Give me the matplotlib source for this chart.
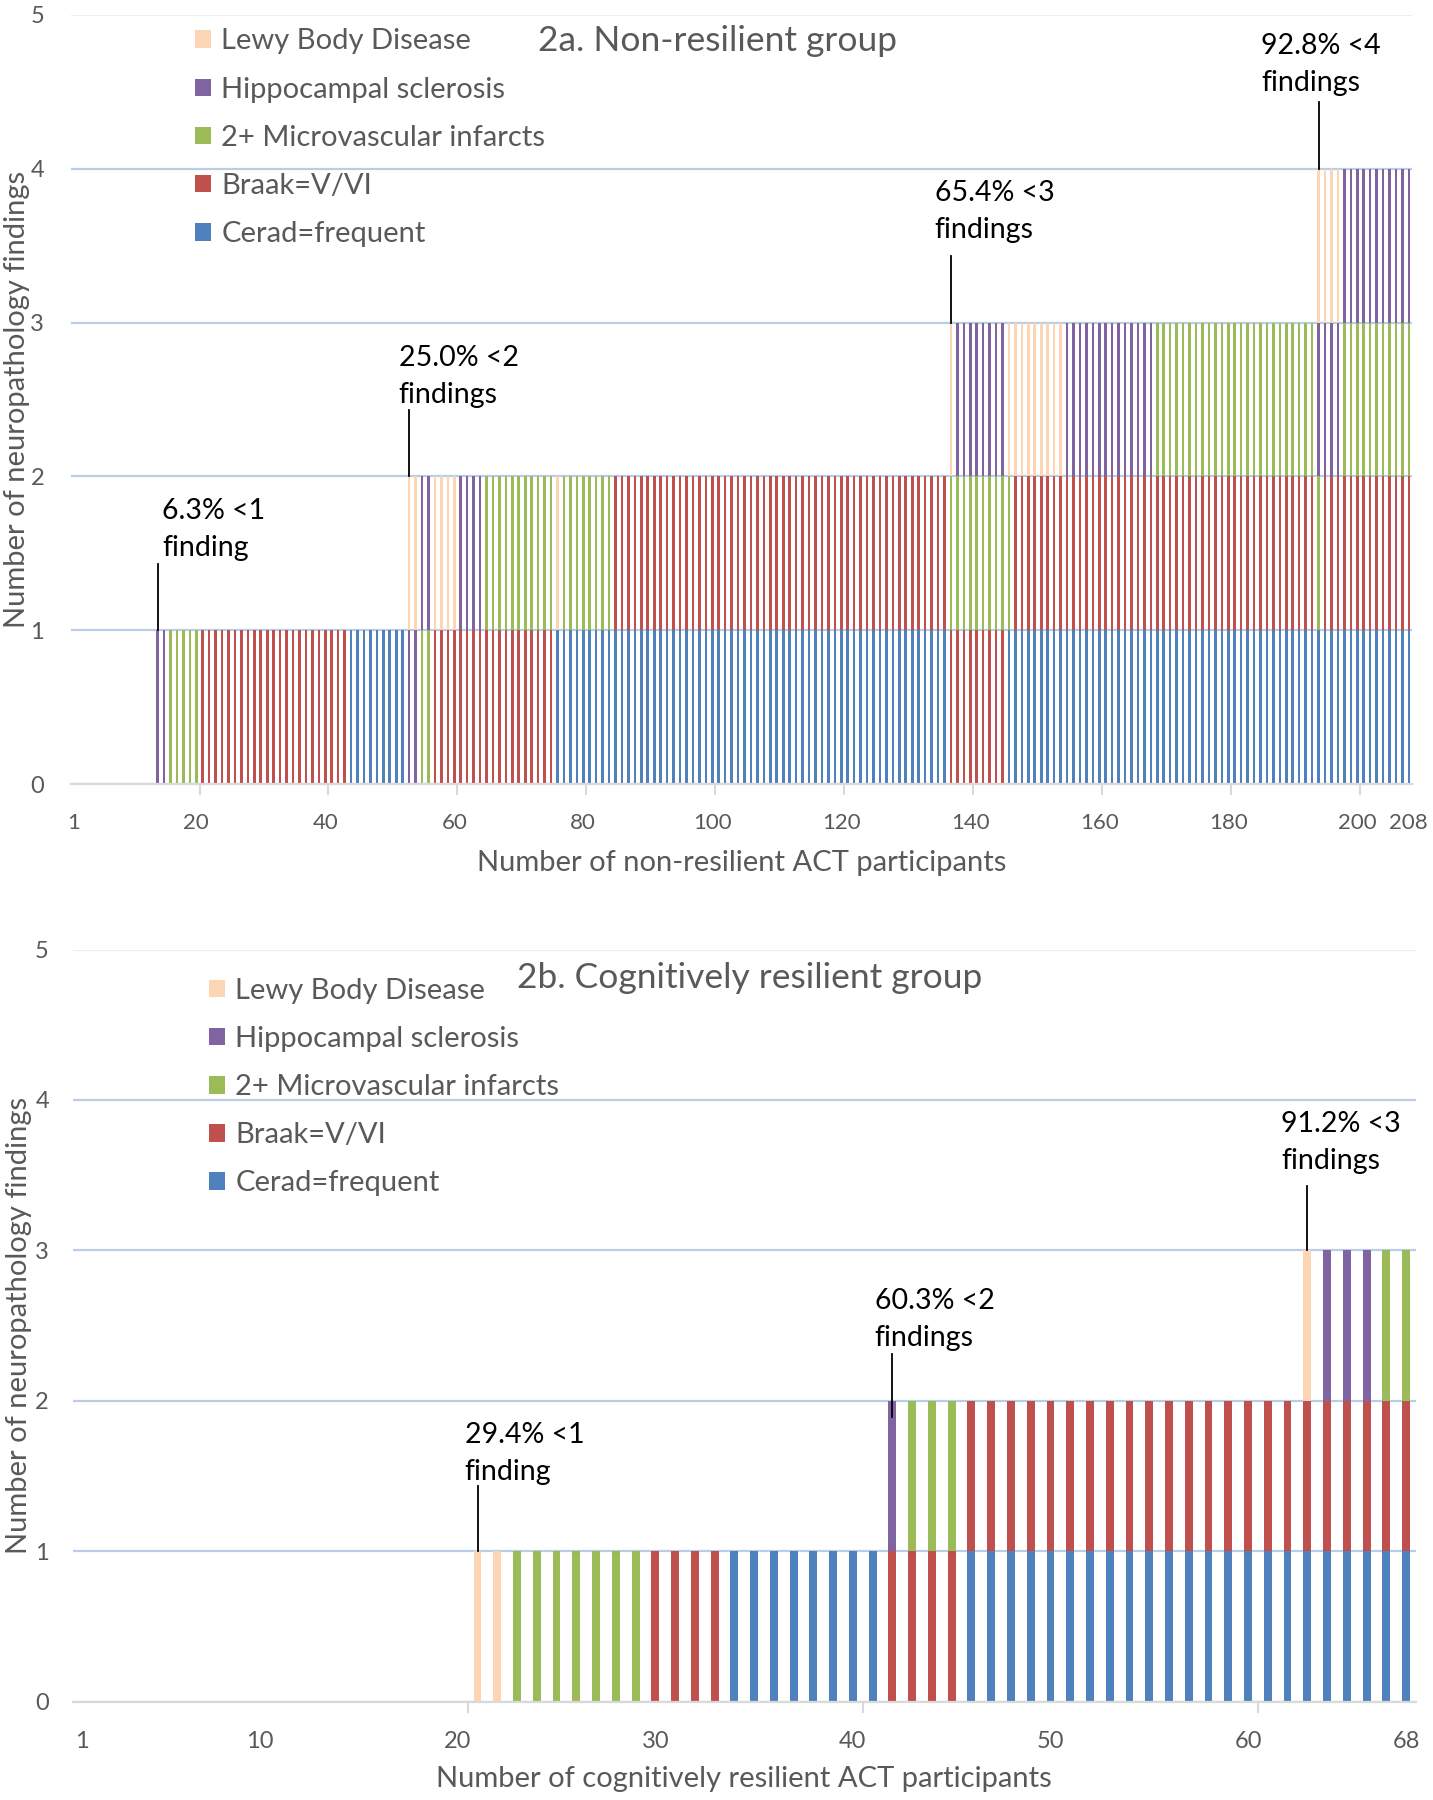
import numpy as np
import matplotlib.pyplot as plt

plt.rcParams['font.family'] = ['Lato', 'DejaVu Sans']

# stacking order, bottom to top
series_codes = ["C", "B", "M", "H", "L"]
series_names = ["Cerad=frequent", "Braak=V/VI", "2+ Microvascular infarcts",
                "Hippocampal sclerosis", "Lewy Body Disease"]
series_colors = ["#4F81BD", "#C0504D", "#9BBB59", "#8064A2", "#FCD5B5"]

# participants sorted by findings, written as runs: run length + findings present
# C=Cerad, B=Braak, M=microinfarcts, H=hippocampal sclerosis, L=Lewy body
nonres_run_len = [13, 2, 5, 23, 9,
                  2, 2, 4, 4, 11, 1, 8, 52,
                  1, 8, 1, 8, 14, 25,
                  1, 3, 11]
nonres_run_set = ["", "H", "M", "B", "C",
                  "HL", "MH", "BL", "BH", "BM", "CL", "CM", "CB",
                  "BML", "BMH", "CML", "CBL", "CBH", "CBM",
                  "CMHL", "CBHL", "CBMH"]

res_run_len = [20, 2, 7, 4, 8,
               1, 3, 17,
               1, 3, 2]
res_run_set = ["", "L", "M", "B", "C",
               "BH", "BM", "CB",
               "CBL", "CBH", "CBM"]

nonres_xticks = [1, 20, 40, 60, 80, 100, 120, 140, 160, 180, 200, 208]
res_xticks = [1, 10, 20, 30, 40, 50, 60, 68]

# label layout for the "<k findings" notes: (text dx, text dy, line y0, line y1) rel. to first bar with k
nonres_notes = [(0.7, 0.655, 0.0, 0.43), (-1.6, 0.649, 0.0, 0.43),
                (-2.5, 0.723, 0.0, 0.43), (-8.9, 0.678, 0.0, 0.43)]
res_notes = [(-0.64, 0.649, 0.0, 0.43), (-0.9, 0.54, -0.11, 0.31),
             (-1.33, 0.717, 0.0, 0.43)]

GRAY = "#595959"
fig = plt.figure(figsize=(14.33, 18), dpi=100)


def expand(run_len, run_set):
    sets = []
    for n, s in zip(run_len, run_set):
        sets += [s] * n
    return sets


def draw_panel(ax, run_len, run_set, title, title_xy, xlabel, xticks, notes, leg_xy, tick_fs, ypad):
    sets = expand(run_len, run_set)
    n = len(sets)
    x = np.arange(1, n + 1)
    bottom = np.zeros(n)
    handles = []
    for code, name, col in zip(series_codes, series_names, series_colors):
        vals = np.array([1 if code in s else 0 for s in sets])
        b = ax.bar(x, vals, 0.4, bottom=bottom, color=col, label=name, zorder=2)
        bottom = bottom + vals
        handles.append(b)

    ax.set_xlim(0.5, n + 0.5)
    ax.set_ylim(0, 5)
    ax.set_yticks(range(6))
    ax.grid(axis='y', color='#B9CDE5', lw=1.6, zorder=0)
    ax.get_ygridlines()[-1].set_color('#E6EDF7')
    ax.set_axisbelow(True)
    for s in ['top', 'right', 'left']:
        ax.spines[s].set_visible(False)
    ax.spines['bottom'].set_color('#D9D9D9')
    ax.spines['bottom'].set_linewidth(1.6)
    ax.spines['bottom'].set_zorder(3)

    ax.set_xticks(xticks)
    ax.set_xticklabels([str(t) for t in xticks])
    ax.set_xticks(np.arange(20.5, n, 20), minor=True)
    ax.tick_params(axis='x', which='major', length=0, pad=21, labelsize=tick_fs, labelcolor=GRAY)
    ax.tick_params(axis='x', which='minor', length=8, width=1.5, color='#D9D9D9')
    ax.tick_params(axis='y', length=0, pad=ypad, labelsize=17, labelcolor=GRAY)

    ax.set_xlabel(xlabel, fontsize=21, color=GRAY)
    ax.xaxis.set_label_coords(0.5, -0.086)
    ax.set_ylabel("Number of neuropathology findings", fontsize=21, color=GRAY)
    ax.yaxis.set_label_coords(-0.030, 0.5)

    fig.text(title_xy[0], title_xy[1], title, fontsize=25.5, color=GRAY, ha='center', va='center')

    # cumulative share with fewer than k findings
    for k, (dx, dy, y0, y1) in zip(range(1, int(bottom.max()) + 1), notes):
        n_less = int((bottom < k).sum())
        pct = n_less / n * 100
        word = "finding" if k == 1 else "findings"
        x0 = n_less + 1
        ax.plot([x0, x0], [k + y0, k + y1], color='black', lw=1.3, zorder=4)
        ax.text(x0 + dx, k + dy, f"{pct + 1e-9:.1f}% <{k}\n{word}", fontsize=20.5,
                color='black', ha='left', va='center', linespacing=1.55, zorder=5)

    ax.legend(handles[::-1], series_names[::-1], loc='upper left', bbox_to_anchor=leg_xy,
              bbox_transform=fig.transFigure, frameon=False, fontsize=21, labelcolor=GRAY,
              handlelength=0.55, handleheight=0.55, handletextpad=0.35, labelspacing=0.76,
              borderpad=0, borderaxespad=0)


ax1 = fig.add_axes([0.0492, 0.5643, 0.9362, 0.4275])
draw_panel(ax1, run_len=nonres_run_len, run_set=nonres_run_set, title="2a. Non-resilient group",
           title_xy=(0.5007, 0.9770), xlabel="Number of non-resilient ACT participants",
           xticks=nonres_xticks, notes=nonres_notes, leg_xy=(0.136, 0.9842), tick_fs=16, ypad=19)

ax2 = fig.add_axes([0.0506, 0.0547, 0.9375, 0.4178])
draw_panel(ax2, run_len=res_run_len, run_set=res_run_set, title="2b. Cognitively resilient group",
           title_xy=(0.5234, 0.4565), xlabel="Number of cognitively resilient ACT participants",
           xticks=res_xticks, notes=res_notes, leg_xy=(0.1458, 0.4568), tick_fs=17, ypad=17)

fig.savefig("out.png", dpi=100)
